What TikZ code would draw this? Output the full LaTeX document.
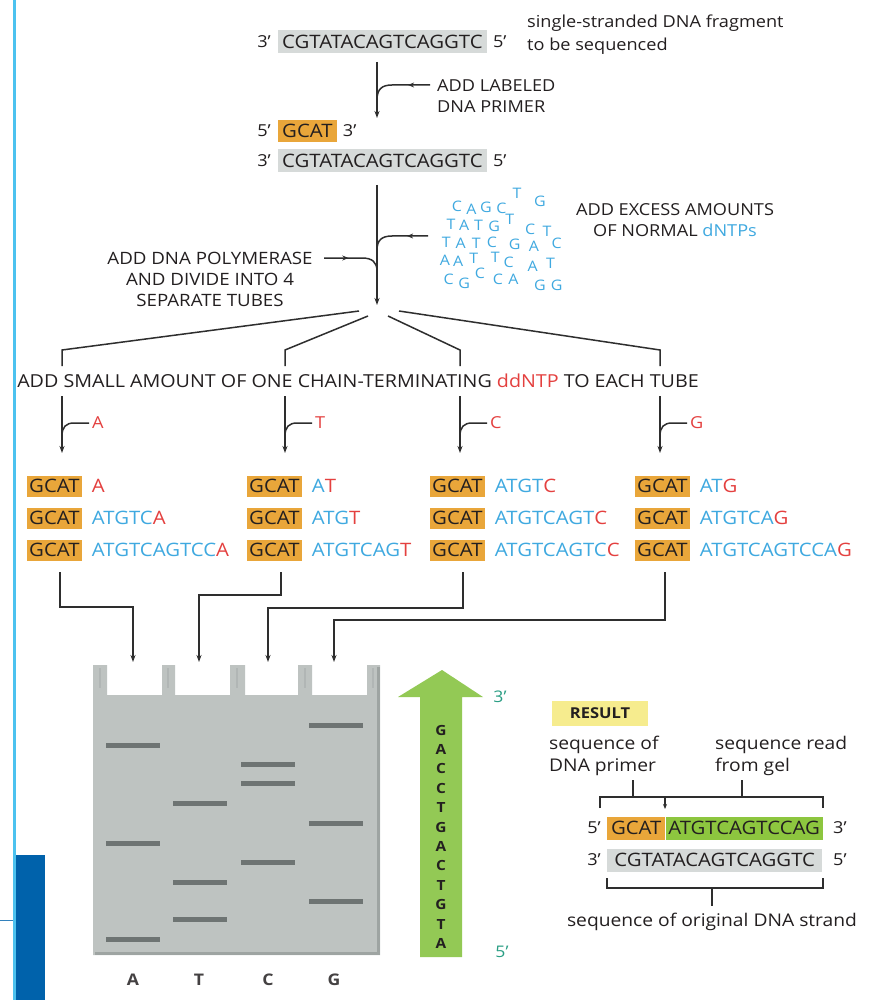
\documentclass[tikz,border=0pt]{standalone}
\usepackage{fontspec}
\setmainfont[FakeStretch=1.1]{Open Sans}
\usetikzlibrary{arrows.meta,decorations.markings}
\definecolor{txt}{HTML}{231F20}
\definecolor{lineC}{HTML}{2E2E2E}
\definecolor{seqblue}{HTML}{3FA9E0}
\definecolor{seqred}{HTML}{E4403F}
\definecolor{orangeC}{HTML}{E9A63A}
\definecolor{greyC}{HTML}{D6DAD9}
\definecolor{greenC}{HTML}{8DC63F}
\definecolor{arrowgreen}{HTML}{93C955}
\definecolor{yellowC}{HTML}{F6EC8E}
\definecolor{gelC}{HTML}{BEC3C1}
\definecolor{gelEdge}{HTML}{9EA4A2}
\definecolor{bandC}{HTML}{6E7473}
\definecolor{primeC}{HTML}{2A9E84}
\definecolor{lightblueC}{HTML}{4CC2EF}
\definecolor{darkblueC}{HTML}{0062AB}
\tikzset{
  conn/.style={draw=lineC, line width=1.5pt},
  arr/.style={conn, -{Stealth[length=7pt,width=5pt]}},
  midarr/.style={postaction={decorate,decoration={markings,mark=at position #1 with {\arrow{Stealth[length=6pt,width=5pt]}}}}},
  lbl/.style={font=\fontsize{16.5}{21}\selectfont, text=txt, inner sep=0pt},
  small/.style={font=\fontsize{17.5}{22}\selectfont, text=txt, inner sep=0pt},
  seq/.style={font=\fontsize{18.5}{20}\selectfont, text=txt, inner sep=0pt},
  greyseq/.style={seq, fill=greyC, inner xsep=4pt, minimum height=23pt},
  gcat/.style={seq, fill=orangeC, inner xsep=2pt, minimum height=21pt},
  cloud/.style={font=\fontsize{14.5}{14}\selectfont, text=seqblue, inner sep=0pt},
  band/.style={fill=bandC, minimum width=54pt, minimum height=5pt, inner sep=0pt},
  lane/.style={font=\fontsize{16}{16}\selectfont\bfseries, text=txt!85, inner sep=0pt},
  arrletter/.style={font=\fontsize{14}{14}\selectfont\bfseries, text=txt, inner sep=0pt},
  prime/.style={font=\fontsize{16}{16}\selectfont, text=primeC, inner sep=0pt}
}
\begin{document}
\begin{tikzpicture}[x=1pt,y=-1pt]
\useasboundingbox (0,0) rectangle (874,1000);
\fill[white] (0,0) rectangle (874,1000);
% left decorations
\fill[darkblueC] (14,855) rectangle (45,1000);
\draw[lightblueC, line width=3pt] (14,0) -- (14,1000);
\draw[darkblueC!80, line width=1pt] (0,920) -- (13,920);

% ---- top strand
\node[greyseq, anchor=west] (s1) at (278,42) {CGTATACAGTCAGGTC};
\node[lbl, anchor=east] (s1l) at (271,42) {3’};
\node[lbl, anchor=west] (s1r) at ([xshift=6pt]s1.east) {5’};
\node[small, anchor=west, align=left, font=\fontsize{16.5}{23}\selectfont] (desc) at (527,35) {single-stranded DNA fragment\\to be sequenced};

% arrow 1
\coordinate (a1s) at (377,62);
\coordinate (a1e) at (377,118);
\draw[arr] (a1s) -- (a1e);
\node[lbl, anchor=west, align=left] (primerlbl) at (437,96) {ADD LABELED\\DNA PRIMER};
\coordinate (h1s) at (430,85);
\coordinate (h1e) at (377,100);
\draw[conn, midarr=0.35] (h1s) -- (392,85) .. controls (382,85) and (377,89) .. (h1e);

% primer + template
\node[gcat, anchor=west, inner xsep=4pt, minimum height=22pt] (pr) at (278,131) {GCAT};
\node[lbl, anchor=east] (prl) at (271,131) {5’};
\node[lbl, anchor=west] (prr) at ([xshift=6pt]pr.east) {3’};
\node[greyseq, anchor=west] (s2) at (278,161) {CGTATACAGTCAGGTC};
\node[lbl, anchor=east] (s2l) at (271,161) {3’};
\node[lbl, anchor=west] (s2r) at ([xshift=6pt]s2.east) {5’};

% arrow 2
\coordinate (a2s) at (377,185);
\coordinate (a2e) at (377,305);
\draw[arr] (a2s) -- (a2e);
% dNTP cloud
\foreach \cx/\cy/\l [count=\i] in {
 455/206/C,467/209/A,479/207/G,492/208/C,505/193/T,524/201/G,
 450/224/T,461/225/A,473/225/T,486/226/G,499/219/T,516/229/C,530/231/T,
 446/242/T,458/243/A,471/243/T,484/242/C,503/244/G,519/246/A,538/243/C,
 445/260/A,456/261/A,469/258/T,487/257/T,498/262/C,518/266/A,533/263/T,
 448/279/C,461/283/G,474/273/C,489/279/C,502/279/A,524/285/G,538/285/G}
 { \node[cloud] (cl\i) at ({445+(\cx-445)*1.2},\cy) {\l}; }
\node[lbl, align=center] (dntplbl) at (675,220) {ADD EXCESS AMOUNTS\\OF NORMAL \textcolor{seqblue}{dNTPs}};
\coordinate (h2s) at (428,236);
\coordinate (h2e) at (377,250);
\draw[conn, midarr=0.35] (h2s) -- (392,236) .. controls (382,236) and (377,240) .. (h2e);
\node[lbl, align=center, font=\fontsize{17}{21}\selectfont] (pollbl) at (210,279) {ADD DNA POLYMERASE\\AND DIVIDE INTO 4\\SEPARATE TUBES};
\coordinate (h3s) at (324,258);
\coordinate (h3e) at (377,271);
\draw[conn, midarr=0.4] (h3s) -- (362,258) .. controls (372,258) and (377,262) .. (h3e);

% split into four
\coordinate (spA) at (359,311);
\coordinate (spT) at (368,316);
\coordinate (spC) at (388,316);
\coordinate (spG) at (399,311);
\coordinate (cA) at (62,366);
\coordinate (cT) at (285,366);
\coordinate (cC) at (460,366);
\coordinate (cG) at (660,366);
\draw[conn] (spA) -- (62,350) -- (cA);
\draw[conn] (spT) -- (285,350) -- (cT);
\draw[conn] (spC) -- (460,350) -- (cC);
\draw[conn] (spG) -- (660,350) -- (cG);
\node[lbl, font=\fontsize{17.9}{20}\selectfont] (ddlbl) at (358,381) {ADD SMALL AMOUNT OF ONE CHAIN-TERMINATING \textcolor{seqred}{ddNTP} TO EACH TUBE};

% tube arrows with ddNTP hooks
\foreach \x/\b/\n in {62/A/A, 285/T/T, 460/C/C, 660/G/G}{
  \coordinate (ts\n) at (\x,396);
  \coordinate (te\n) at (\x,453);
  \draw[arr] (ts\n) -- (te\n);
  \node[lbl, text=seqred, anchor=west] (dd\n) at (\x+30,423) {\b};
  \coordinate (hk\n) at (\x+27,423);
  \draw[conn] (hk\n) -- (\x+12,423) .. controls (\x+4,423) and (\x,427) .. (\x,436);
}

% tube contents
\foreach \bx/\by/\nm/\bl/\rd in {
 27/486/a1//A, 27/518/a2/ATGTC/A, 27/550/a3/ATGTCAGTCC/A,
 247/486/t1/A/T, 247/518/t2/ATG/T, 247/550/t3/ATGTCAG/T,
 430/486/c1/ATGT/C, 430/518/c2/ATGTCAGT/C, 430/550/c3/ATGTCAGTC/C,
 635/486/g1/AT/G, 635/518/g2/ATGTCA/G, 635/550/g3/ATGTCAGTCCA/G}{
  \node[gcat, anchor=west] (gc\nm) at (\bx,\by) {GCAT};
  \node[seq, anchor=west] (sq\nm) at ([xshift=10pt]gc\nm.east) {\textcolor{seqblue}{\bl}\textcolor{seqred}{\rd}};
}

% connectors to gel
\coordinate (fA) at (60,572);  \coordinate (dA) at (133,662);
\coordinate (fT) at (281,572); \coordinate (dT) at (199,662);
\coordinate (fC) at (463,572); \coordinate (dC) at (268,662);
\coordinate (fG) at (665,572); \coordinate (dG) at (334,662);
\draw[arr] (fA) -- (60,607) -- (133,607) -- (dA);
\draw[arr] (fT) -- (281,595) -- (199,595) -- (dT);
\draw[arr] (fC) -- (463,608) -- (268,608) -- (dC);
\draw[arr] (fG) -- (665,620) -- (334,620) -- (dG);

% gel
\fill[gelC] (93,665) -- (107,665) -- (107,695) -- (162,695) -- (162,665) -- (175,665) -- (175,695)
  -- (230,695) -- (230,665) -- (245,665) -- (245,695) -- (298,695) -- (298,665) -- (312,665)
  -- (312,695) -- (367,695) -- (367,665) -- (380,665) -- (380,955) -- (93,955) -- cycle;
\draw[gelEdge, line width=3pt] (378,667) -- (378,953) -- (95,953);
\foreach \t in {100,168,237,305,373}{ \draw[gelEdge!80, line width=2pt] (\t,668) -- (\t,688); }
\foreach \bx/\by [count=\i] in {133/745,133/843,133/939, 200/803,200/882,200/919, 268/764,268/783,268/862, 336/725,336/823,336/901}
  { \node[band] (b\i) at (\bx,\by) {}; }
\node[lane] (lA) at (133,980) {A};
\node[lane] (lT) at (199,980) {T};
\node[lane] (lC) at (268,980) {C};
\node[lane] (lG) at (334,980) {G};

% green arrow
\fill[arrowgreen] (420,957) -- (420,697) -- (398,697) -- (442,670) -- (483,697) -- (462,697) -- (462,957) -- cycle;
\foreach \l [count=\i] in {G,A,C,C,T,G,A,C,T,G,T,A}
  { \node[arrletter] (ga\i) at (441,{730+19.4*(\i-1)}) {\l}; }
\node[prime] (p3) at (500,697) {3’};
\node[prime] (p5) at (502,952) {5’};

% result
\node[fill=yellowC, minimum width=96pt, minimum height=25pt, inner sep=0pt, font=\fontsize{15}{15}\selectfont\bfseries, text=txt] (res) at (600,713) {RESULT};
\node[small, anchor=west, align=left] (rl1) at (549,756) {sequence of\\DNA primer};
\node[small, anchor=west, align=left] (rl2) at (715,756) {sequence read\\from gel};
\coordinate (t1a) at (633,780); \coordinate (t1b) at (633,797);
\coordinate (t2a) at (742,780); \coordinate (t2b) at (742,797);
\draw[conn, line width=1.3pt] (t1a) -- (t1b);
\draw[conn, line width=1.3pt] (t2a) -- (t2b);
\draw[conn, line width=1.3pt] (600,808) -- (600,797) -- (823,797) -- (823,808);
\coordinate (mk1) at (665,797); \coordinate (mk2) at (665,809);
\draw[conn, line width=1.3pt, -{Stealth[length=5pt,width=4pt]}] (mk1) -- (mk2);
\node[seq, fill=orangeC, minimum width=58pt, minimum height=23pt, anchor=west] (rgc) at (607,828) {GCAT};
\node[seq, fill=greenC, minimum width=157pt, minimum height=23pt, anchor=west] (rseq) at (rgc.east) {ATGTCAGTCCAG};
\node[lbl, anchor=east] (r5) at (601,828) {5’};
\node[lbl, anchor=west] (r3) at (833,828) {3’};
\node[seq, fill=greyC, minimum width=215pt, minimum height=23pt, anchor=west] (rtm) at (607,860) {CGTATACAGTCAGGTC};
\node[lbl, anchor=east] (r3b) at (601,860) {3’};
\node[lbl, anchor=west] (r5b) at (833,860) {5’};
\draw[conn, line width=1.3pt] (607,878) -- (607,888) -- (823,888) -- (823,878);
\coordinate (t3a) at (712,888); \coordinate (t3b) at (712,906);
\draw[conn, line width=1.3pt] (t3a) -- (t3b);
\node[small] (rl3) at (712,922) {sequence of original DNA strand};
\end{tikzpicture}
\end{document}
